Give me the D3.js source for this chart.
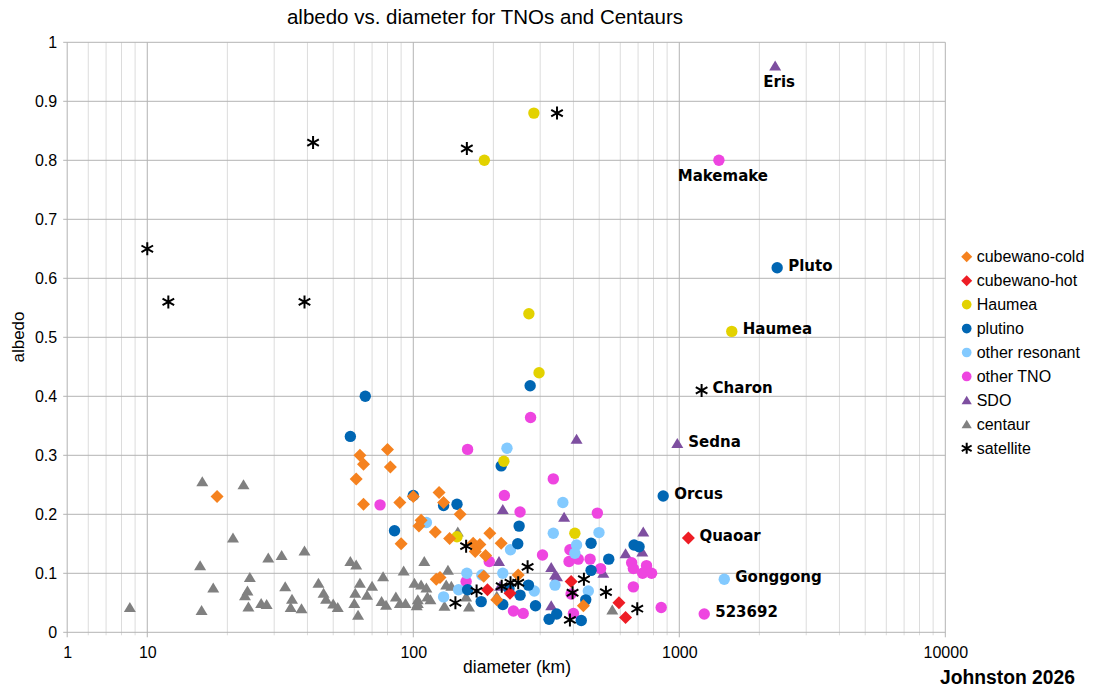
<!DOCTYPE html>
<html>
<head>
<meta charset="utf-8">
<script src="https://cdn.jsdelivr.net/npm/d3@7"></script>
<style>
  body { margin: 0; background: #fff; }
  text { font-family: "Liberation Sans", Arial, sans-serif; fill: #000; }
</style>
</head>
<body>
<script>
// [diameter km, albedo]
const cubewanoCold = [[18.3,0.23],[63,0.30],[65,0.285],[61,0.26],[80,0.31],[82,0.28],[65,0.217],[89,0.22],
  [100,0.23],[125,0.237],[130,0.22],[150,0.20],[107,0.19],[105,0.18],[90,0.15],[121,0.17],[137,0.159],
  [168,0.151],[178,0.149],[171,0.137],[187,0.13],[194,0.168],[214,0.151],[126,0.093],[122,0.09],
  [184,0.095],[206,0.055],[248,0.097],[436,0.045]];
const cubewanoHot = [[190,0.072],[231,0.066],[392,0.086],[593,0.05],[628,0.025],[1082,0.16]];
const haumeaFamily = [[185,0.80],[284,0.88],[272,0.54],[297,0.44],[219,0.29],[405,0.168],[146,0.162],[1575,0.51]];
const plutino = [[2333,0.618],[870,0.231],[66,0.40],[275,0.418],[58,0.332],[85,0.172],[100,0.232],[214,0.282],
  [130,0.215],[146,0.217],[250,0.18],[247,0.15],[180,0.052],[160,0.072],[217,0.047],[252,0.063],[271,0.08],
  [288,0.045],[324,0.022],[346,0.031],[229,0.074],[428,0.02],[466,0.151],[543,0.124],[466,0.105],[676,0.148],
  [706,0.145],[445,0.055]];
const otherResonant = [[225,0.312],[365,0.22],[336,0.168],[112,0.186],[232,0.14],[159,0.10],[181,0.097],
  [217,0.10],[148,0.072],[130,0.06],[285,0.07],[341,0.08],[411,0.148],[405,0.134],[499,0.169],[455,0.07],[1476,0.09]];
const otherTNO = [[1409,0.80],[160,0.31],[276,0.364],[336,0.26],[220,0.232],[252,0.204],[75,0.216],[306,0.131],
  [193,0.12],[158,0.086],[238,0.036],[259,0.032],[388,0.14],[385,0.12],[392,0.065],[400,0.032],[417,0.124],
  [462,0.124],[492,0.202],[506,0.108],[662,0.118],[672,0.108],[753,0.113],[728,0.10],[787,0.10],[672,0.077],
  [855,0.042],[1241,0.031]];
const sdo = [[2293,0.96],[983,0.32],[411,0.327],[217,0.208],[369,0.195],[210,0.12],[330,0.11],[341,0.097],
  [347,0.094],[330,0.045],[518,0.10],[628,0.133],[732,0.17],[726,0.136],[212,0.078]];
const centaur = [[8.6,0.042],[16.1,0.255],[23,0.25],[21,0.16],[15.8,0.113],[17.7,0.075],[16,0.037],[24.3,0.093],
  [23.8,0.07],[23.3,0.062],[24,0.043],[26.8,0.049],[28.1,0.047],[28.5,0.126],[32,0.13],[39,0.138],[33,0.077],
  [35,0.056],[34.6,0.042],[38,0.04],[44,0.083],[46,0.066],[47,0.056],[50,0.048],[52,0.042],[58,0.12],[61,0.114],
  [60.5,0.066],[60,0.049],[62,0.029],[63,0.083],[67,0.063],[70,0.078],[77,0.094],[92,0.104],[76,0.052],[79,0.046],
  [86,0.06],[89,0.049],[93.5,0.049],[104,0.049],[101,0.083],[110,0.12],[107,0.08],[112,0.075],[104,0.055],
  [113,0.06],[116,0.055],[103,0.045],[135,0.105],[133,0.08],[139,0.078],[147,0.17],[131,0.044],[162,0.043],
  [158,0.06],[206,0.061],[560,0.038]];
const satellite = [[42,0.83],[159,0.82],[10,0.65],[12,0.56],[39,0.56],[347,0.88],[1213,0.41],[158,0.146],
  [144,0.05],[173,0.07],[215,0.078],[232,0.084],[248,0.084],[269,0.111],[397,0.067],[438,0.09],[388,0.021],
  [530,0.068],[695,0.04]];

const seriesNames = ["cubewano-cold", "cubewano-hot", "Haumea", "plutino", "other resonant", "other TNO", "SDO", "centaur", "satellite"];
const seriesValues = [cubewanoCold, cubewanoHot, haumeaFamily, plutino, otherResonant, otherTNO, sdo, centaur, satellite];
const seriesColors = ["#f5821f", "#ee1d25", "#e3d200", "#0066b3", "#83caff", "#ee45e0", "#7e4fa0", "#808080", "#000000"];
const seriesShapes = ["diamond", "diamond", "circle", "circle", "circle", "circle", "triangle", "triangle", "star"];
// drawing order (later on top)
const drawOrder = [7, 6, 5, 4, 3, 2, 1, 0, 8];

const namedObjects = [
  ["Eris", 2293, 0.96, "below"], ["Makemake", 1409, 0.80, "below"], ["Pluto", 2333, 0.618, "right"],
  ["Haumea", 1575, 0.51, "right"], ["Charon", 1213, 0.41, "right"], ["Sedna", 983, 0.32, "right"],
  ["Orcus", 870, 0.231, "right"], ["Quaoar", 1082, 0.16, "right"], ["Gonggong", 1476, 0.09, "right"],
  ["523692", 1241, 0.031, "right"]
];

const xTickValues = [5, 10, 100, 1000, 10000];
const xTickLabels = ["1", "10", "100", "1000", "10000"];
const yTickValues = d3.range(0, 11).map(i => i / 10);

const width = 1110, height = 688;
const plot = { left: 67.2, right: 945.3, top: 42.3, bottom: 632.3 };

const svg = d3.select("body").append("svg")
  .attr("width", width).attr("height", height);

const x = d3.scaleLog().domain([5, 10000]).range([plot.left, plot.right]);
const y = d3.scaleLinear().domain([0, 1]).range([plot.bottom, plot.top]);

// minor grid (2..9 in each decade)
const minorX = [];
[1, 10, 100, 1000].forEach(dec => d3.range(2, 10).forEach(m => {
  const v = dec * m;
  if (v > 5 && v < 10000) minorX.push(v);
}));

const grid = svg.append("g");
grid.selectAll("line.minor").data(minorX).enter().append("line")
  .attr("x1", d => x(d)).attr("x2", d => x(d))
  .attr("y1", plot.top).attr("y2", plot.bottom + 3)
  .attr("stroke", "#dcdcdc").attr("stroke-width", 1);
grid.selectAll("line.hy").data(yTickValues).enter().append("line")
  .attr("x1", plot.left - 4).attr("x2", plot.right)
  .attr("y1", d => y(d)).attr("y2", d => y(d))
  .attr("stroke", "#b3b3b3").attr("stroke-width", 1);
grid.selectAll("line.vx").data(xTickValues).enter().append("line")
  .attr("x1", d => x(d)).attr("x2", d => x(d))
  .attr("y1", plot.top).attr("y2", plot.bottom + 5)
  .attr("stroke", "#b3b3b3").attr("stroke-width", 1);

// tick labels via d3 axes (grid lines drawn separately above)
const xAxis = d3.axisBottom(x).tickValues(xTickValues).tickSize(0).tickPadding(0)
  .tickFormat((d, i) => xTickLabels[i]);
const gx = svg.append("g").attr("transform", `translate(0,${plot.bottom})`).call(xAxis);
gx.select(".domain").remove();
gx.selectAll("text").attr("y", 26).attr("dy", null)
  .style("font-size", "16px").style("font-family", "'Liberation Sans', Arial, sans-serif").attr("fill", "#000");

const yAxis = d3.axisLeft(y).tickValues(yTickValues).tickSize(0).tickPadding(0)
  .tickFormat(d => d3.format("~g")(d));
const gy = svg.append("g").attr("transform", `translate(${plot.left},0)`).call(yAxis);
gy.select(".domain").remove();
gy.selectAll("text").attr("x", -10).attr("dy", "0.35em")
  .style("font-size", "16px").style("font-family", "'Liberation Sans', Arial, sans-serif").attr("fill", "#000");

// symbols
function symbolPath(shape, s) {
  if (shape === "diamond") return `M0,${-6.5*s}L${6.5*s},0L0,${6.5*s}L${-6.5*s},0Z`;
  if (shape === "triangle") return `M0,${-5.5*s}L${6*s},${4.5*s}L${-6*s},${4.5*s}Z`;
  if (shape === "star") return `M0,${-6.5*s}V${6.5*s}M${-5.8*s},${-3.3*s}L${5.8*s},${3.3*s}M${-5.8*s},${3.3*s}L${5.8*s},${-3.3*s}`;
  return null;
}

function drawSymbol(sel, shape, color, s) {
  if (shape === "circle") {
    sel.append("circle").attr("r", 5.7 * s).attr("fill", color);
  } else if (shape === "star") {
    sel.append("path").attr("d", symbolPath(shape, s)).attr("fill", "none")
      .attr("stroke", color).attr("stroke-width", 2);
  } else {
    sel.append("path").attr("d", symbolPath(shape, s)).attr("fill", color);
  }
}

const marks = svg.append("g");
drawOrder.forEach(i => {
  const g = marks.append("g").attr("class", "series-" + i);
  g.selectAll("g").data(seriesValues[i]).enter().append("g")
    .attr("transform", d => `translate(${x(d[0])},${y(d[1])})`)
    .each(function () { drawSymbol(d3.select(this), seriesShapes[i], seriesColors[i], 1); });
});

// labels for named objects
svg.append("g").selectAll("text").data(namedObjects).enter().append("text")
  .attr("x", d => d[3] === "below" ? x(d[1]) + 4 : x(d[1]) + 11)
  .attr("y", d => d[3] === "below" ? y(d[2]) + 21 : y(d[2]) + 3)
  .attr("text-anchor", d => d[3] === "below" ? "middle" : "start")
  .style("font-family", "'DejaVu Sans', Verdana, sans-serif")
  .style("font-weight", "bold").style("font-size", "15px")
  .text(d => d[0]);

// legend
const legend = svg.append("g").attr("transform", "translate(966.7,256.7)");
seriesNames.forEach((name, i) => {
  const row = legend.append("g").attr("transform", `translate(0,${i * 23.95})`);
  drawSymbol(row, seriesShapes[i], seriesColors[i], 0.85);
  row.append("text").attr("x", 10).attr("dy", "0.36em")
    .style("font-size", "16px").text(name);
});

// titles
svg.append("text").attr("x", 485).attr("y", 24).attr("text-anchor", "middle")
  .style("font-size", "20.5px").text("albedo vs. diameter for TNOs and Centaurs");
svg.append("text").attr("x", 517).attr("y", 673).attr("text-anchor", "middle")
  .style("font-size", "17.5px").text("diameter (km)");
svg.append("text").attr("transform", "translate(24,337) rotate(-90)").attr("text-anchor", "middle")
  .style("font-size", "17px").text("albedo");
svg.append("text").attr("x", 940).attr("y", 684)
  .attr("textLength", 135).attr("lengthAdjust", "spacingAndGlyphs")
  .style("font-family", "'Liberation Sans', Arial, sans-serif")
  .style("font-weight", "bold").style("font-size", "20px")
  .text("Johnston 2026");
</script>
</body>
</html>
